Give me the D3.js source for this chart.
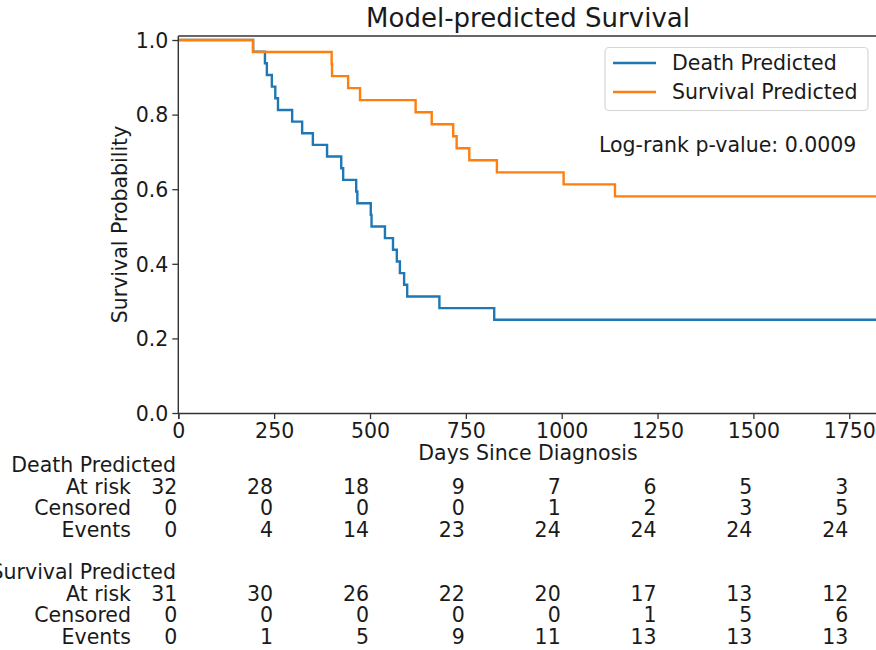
<!DOCTYPE html>
<html>
<head>
<meta charset="utf-8">
<script src="https://cdn.jsdelivr.net/npm/d3@7.9.0/dist/d3.min.js"></script>
<style>
  body { margin: 0; background: #fff; }
  text { font-family: "DejaVu Sans", sans-serif; fill: #1a1a1a; }
</style>
</head>
<body>
<svg id="chart" width="876" height="650"></svg>
<script>
// event / censoring times (days)
const deathN = 32;
const deathEventDays = [195, 226, 231, 244, 253, 260, 297, 323, 351, 388, 425, 430,
  464, 467, 502, 504, 539, 560, 570, 578, 589, 597, 681, 824];
const deathCensorDays = [900, 1100, 1400, 1600, 1700];

const survN = 31;
const survEventDays = [195, 400, 401, 443, 474, 619, 661, 717, 726, 759, 831, 1005, 1139];
const survCensorDays = [1200, 1300, 1350, 1420, 1480, 1650];

const groupNames = ['Death Predicted', 'Survival Predicted'];
const groupColors = ['#1f77b4', '#ff7f0e'];

// at-risk table
const tableDays = [0, 250, 500, 750, 1000, 1250, 1500, 1750];
const rowLabels = ['At risk', 'Censored', 'Events'];
const deathAtRisk = [32, 28, 18, 9, 7, 6, 5, 3];
const deathCensored = [0, 0, 0, 0, 1, 2, 3, 5];
const deathEvents = [0, 4, 14, 23, 24, 24, 24, 24];
const survAtRisk = [31, 30, 26, 22, 20, 17, 13, 12];
const survCensored = [0, 0, 0, 0, 0, 1, 5, 6];
const survEvents = [0, 1, 5, 9, 11, 13, 13, 13];

const yTicks = [0, 0.2, 0.4, 0.6, 0.8, 1.0];
const maxDay = 1825;
const fs = '20.5px';

const svg = d3.select('#chart');

const x = d3.scaleLinear().domain([0, maxDay]).range([178.3, 878]);
const y = d3.scaleLinear().domain([0, 1]).range([413, 40]);
const plotTop = 36;

// Kaplan-Meier steps
function kaplanMeier(n, events, censors) {
  const times = Array.from(new Set(events.concat(censors))).sort((a, b) => a - b);
  let s = 1, atRisk = n;
  const pts = [[0, 1]];
  times.forEach(t => {
    const d = events.filter(e => e === t).length;
    const c = censors.filter(e => e === t).length;
    if (d > 0) {
      s *= (atRisk - d) / atRisk;
      pts.push([t, s]);
    }
    atRisk -= d + c;
  });
  pts.push([maxDay, s]);
  return pts;
}

const curves = [
  kaplanMeier(deathN, deathEventDays, deathCensorDays),
  kaplanMeier(survN, survEventDays, survCensorDays)
];

const line = d3.line()
  .x(d => x(d[0]))
  .y(d => y(d[1]))
  .curve(d3.curveStepAfter);

// curves (death drawn first, survival on top)
curves.forEach((pts, i) => {
  svg.append('path')
    .datum(pts)
    .attr('d', line)
    .attr('fill', 'none')
    .attr('stroke', groupColors[i])
    .attr('stroke-width', 2.4);
});

// top spine
svg.append('line').attr('x1', x(0)).attr('x2', 878).attr('y1', plotTop).attr('y2', plotTop)
  .attr('stroke', '#333').attr('stroke-width', 1.4);

// axes
const xAxis = svg.append('g')
  .attr('transform', `translate(0,${y(0)})`)
  .call(d3.axisBottom(x).tickValues(tableDays).tickFormat(d3.format('d')).tickSize(6).tickPadding(4));
const yAxis = svg.append('g')
  .attr('transform', `translate(${x(0)},0)`)
  .call(d3.axisLeft(y).tickValues(yTicks).tickFormat(d3.format('.1f')).tickSize(6).tickPadding(4));

yAxis.select('.domain').attr('d', `M0,${plotTop}V${y(0)}`);
[xAxis, yAxis].forEach(g => {
  g.select('.domain').attr('stroke', '#333').attr('stroke-width', 1.4);
  g.selectAll('.tick line').attr('stroke', '#333').attr('stroke-width', 1.3);
  g.selectAll('.tick text').style('font-size', fs).attr('fill', '#1a1a1a')
    .style('font-family', '"DejaVu Sans", sans-serif');
});
yAxis.selectAll('.tick text').attr('dy', '0.36em');

// title and labels
svg.append('text').attr('x', 528).attr('y', 27).attr('text-anchor', 'middle')
  .style('font-size', '26px').text('Model-predicted Survival');
svg.append('text').attr('x', 528).attr('y', 460).attr('text-anchor', 'middle')
  .style('font-size', fs).text('Days Since Diagnosis');
svg.append('text').attr('transform', `translate(127,${(plotTop + y(0)) / 2}) rotate(-90)`)
  .attr('text-anchor', 'middle').style('font-size', fs).text('Survival Probability');

// legend
const legend = svg.append('g');
legend.append('rect').attr('x', 605).attr('y', 47.5).attr('width', 263).attr('height', 63)
  .attr('rx', 4).attr('fill', '#fff').attr('fill-opacity', 0.8)
  .attr('stroke', '#d6d6d6').attr('stroke-width', 1.2);
groupNames.forEach((name, i) => {
  const ly = 63 + i * 29;
  legend.append('line').attr('x1', 613).attr('x2', 656).attr('y1', ly).attr('y2', ly)
    .attr('stroke', groupColors[i]).attr('stroke-width', 2.4);
  legend.append('text').attr('x', 672).attr('y', ly + 7).style('font-size', fs).text(name);
});

svg.append('text').attr('x', 599).attr('y', 152).style('font-size', fs)
  .text('Log-rank p-value: 0.0009');

// at-risk table
const tableGroups = [
  { rows: [deathAtRisk, deathCensored, deathEvents], top: 472 },
  { rows: [survAtRisk, survCensored, survEvents], top: 579 }
];
tableGroups.forEach((g, gi) => {
  svg.append('text').attr('x', 176).attr('y', g.top).attr('text-anchor', 'end')
    .style('font-size', fs).text(groupNames[gi]);
  g.rows.forEach((vals, ri) => {
    const ry = g.top + 21.5 * (ri + 1);
    svg.append('text').attr('x', 131).attr('y', ry).attr('text-anchor', 'end')
      .style('font-size', fs).text(rowLabels[ri]);
    svg.append('g').selectAll('text')
      .data(vals)
      .join('text')
      .attr('x', (d, i) => x(tableDays[i]) - 1)
      .attr('y', ry)
      .attr('text-anchor', 'end')
      .style('font-size', fs)
      .text(d => d);
  });
});
</script>
</body>
</html>
